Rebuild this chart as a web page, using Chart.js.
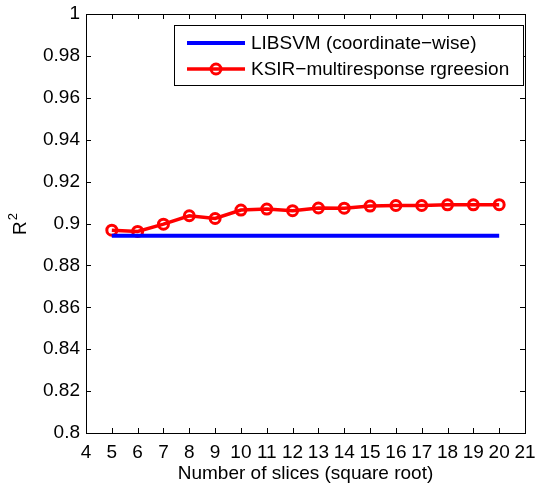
<!DOCTYPE html>
<html>
<head>
<meta charset="utf-8">
<script src="https://cdn.jsdelivr.net/npm/chart.js@4"></script>
<style>
  html, body { margin: 0; padding: 0; background: #fff; }
  #wrap { width: 535px; height: 484px; }
</style>
</head>
<body>
<div id="wrap"><canvas id="graph1" width="535" height="484"></canvas></div>
<script>
// data
var slices = [5, 6, 7, 8, 9, 10, 11, 12, 13, 14, 15, 16, 17, 18, 19, 20];
var ksir = [0.8968, 0.8962, 0.8997, 0.9037, 0.9024, 0.9064, 0.9069, 0.9061, 0.9074, 0.9073, 0.9083, 0.9086, 0.9086, 0.9089, 0.9089, 0.9090];
var libsvm = [0.8941, 0.8941, 0.8941, 0.8941, 0.8941, 0.8941, 0.8941, 0.8941, 0.8941, 0.8941, 0.8941, 0.8941, 0.8941, 0.8941, 0.8941, 0.8941];
var xTicks = [4, 5, 6, 7, 8, 9, 10, 11, 12, 13, 14, 15, 16, 17, 18, 19, 20, 21];
var yTicks = [0.8, 0.82, 0.84, 0.86, 0.88, 0.9, 0.92, 0.94, 0.96, 0.98, 1];

var FONT = 'Liberation Sans, Arial, Helvetica, sans-serif';
var FSIZE = 19;

function toPoints(xs, ys) {
	return xs.map(function(x, i) { return { x: x, y: ys[i] }; });
}

// matlab style box, inward ticks, R^2 label and legend inside the axes
var matlabBox = {
	id: 'matlabBox',
	afterDraw: function(chart) {
		var ctx = chart.ctx;
		var a = chart.chartArea;
		var xs = chart.scales.x, ys = chart.scales.y;
		ctx.save();
		ctx.strokeStyle = '#000';
		ctx.lineWidth = 1;
		ctx.strokeRect(a.left + 0.5, a.top + 0.5, a.right - a.left, a.bottom - a.top);
		ctx.beginPath();
		xTicks.forEach(function(t) {
			var px = Math.round(xs.getPixelForValue(t)) + 0.5;
			ctx.moveTo(px, a.bottom); ctx.lineTo(px, a.bottom - 5);
			ctx.moveTo(px, a.top); ctx.lineTo(px, a.top + 5);
		});
		yTicks.forEach(function(t) {
			var py = Math.round(ys.getPixelForValue(t)) + 0.5;
			ctx.moveTo(a.left, py); ctx.lineTo(a.left + 5, py);
			ctx.moveTo(a.right, py); ctx.lineTo(a.right - 5, py);
		});
		ctx.stroke();

		// y label: R with superscript 2
		ctx.save();
		ctx.translate(26, 235);
		ctx.rotate(-Math.PI / 2);
		ctx.fillStyle = '#000';
		ctx.textBaseline = 'alphabetic';
		ctx.textAlign = 'left';
		ctx.font = FSIZE + 'px ' + FONT;
		ctx.fillText('R', 0, 0);
		var rw = ctx.measureText('R').width;
		ctx.font = '13px ' + FONT;
		ctx.fillText('2', rw + 1, -9);
		ctx.restore();

		// legend
		var bx = 174, by = 25, bw = 349, bh = 60;
		ctx.fillStyle = '#fff';
		ctx.fillRect(bx, by, bw, bh);
		ctx.strokeStyle = '#000';
		ctx.lineWidth = 1;
		ctx.strokeRect(bx + 0.5, by + 0.5, bw, bh);
		var rows = [43, 69];
		ctx.font = FSIZE + 'px ' + FONT;
		ctx.textBaseline = 'middle';
		chart.data.datasets.forEach(function(ds, i) {
			var y = rows[i];
			ctx.strokeStyle = ds.borderColor;
			ctx.lineWidth = ds.borderWidth;
			ctx.beginPath();
			ctx.moveTo(187, y); ctx.lineTo(245, y);
			ctx.stroke();
			if (ds.pointRadius > 0) {
				ctx.lineWidth = ds.pointBorderWidth;
				ctx.beginPath();
				ctx.arc(216, y, ds.pointRadius, 0, Math.PI * 2);
				ctx.stroke();
			}
			ctx.fillStyle = '#000';
			ctx.fillText(ds.label, 251, y + 1);
		});
		ctx.restore();
	}
};

var ctx = document.getElementById('graph1').getContext('2d');
var chart = new Chart(ctx, {
	type: 'line',
	data: {
		datasets: [
			{
				label: 'LIBSVM (coordinate\u2212wise)',
				data: toPoints(slices, libsvm),
				borderColor: 'rgb(0,0,255)',
				borderWidth: 4,
				pointRadius: 0,
				pointBorderWidth: 0,
				tension: 0
			},
			{
				label: 'KSIR\u2212multiresponse rgreesion',
				data: toPoints(slices, ksir),
				borderColor: 'rgb(255,0,0)',
				borderWidth: 3.5,
				pointRadius: 5,
				pointBorderWidth: 3,
				pointBackgroundColor: 'rgba(0,0,0,0)',
				pointBorderColor: 'rgb(255,0,0)',
				tension: 0
			}
		]
	},
	options: {
		responsive: false,
		animation: false,
		layout: { padding: { top: 14, right: 10, left: 0, bottom: 0 } },
		plugins: {
			legend: { display: false },
			tooltip: { enabled: false }
		},
		scales: {
			x: {
				type: 'linear',
				min: 4, max: 21,
				grid: { display: false, drawTicks: false },
				border: { display: false },
				afterBuildTicks: function(s) { s.ticks = xTicks.map(function(v) { return { value: v }; }); },
				afterFit: function(s) { s.height = 51; s.paddingLeft = 0; s.paddingRight = 0; },
				ticks: {
					color: '#000',
					font: { family: FONT, size: FSIZE },
					padding: 8,
					maxRotation: 0,
					autoSkip: false
				},
				title: {
					display: true,
					text: 'Number of slices (square root)',
					color: '#000',
					font: { family: FONT, size: FSIZE },
					padding: { top: 0, bottom: -1 }
				}
			},
			y: {
				min: 0.8, max: 1,
				grid: { display: false, drawTicks: false },
				border: { display: false },
				afterBuildTicks: function(s) { s.ticks = yTicks.map(function(v) { return { value: v }; }); },
				afterFit: function(s) { s.width = 86; s.paddingTop = 0; s.paddingBottom = 0; },
				ticks: {
					color: '#000',
					font: { family: FONT, size: FSIZE },
					padding: 6,
					autoSkip: false,
					callback: function(v) { return String(parseFloat(v.toFixed(2))); }
				}
			}
		}
	},
	plugins: [matlabBox]
});
</script>
</body>
</html>
